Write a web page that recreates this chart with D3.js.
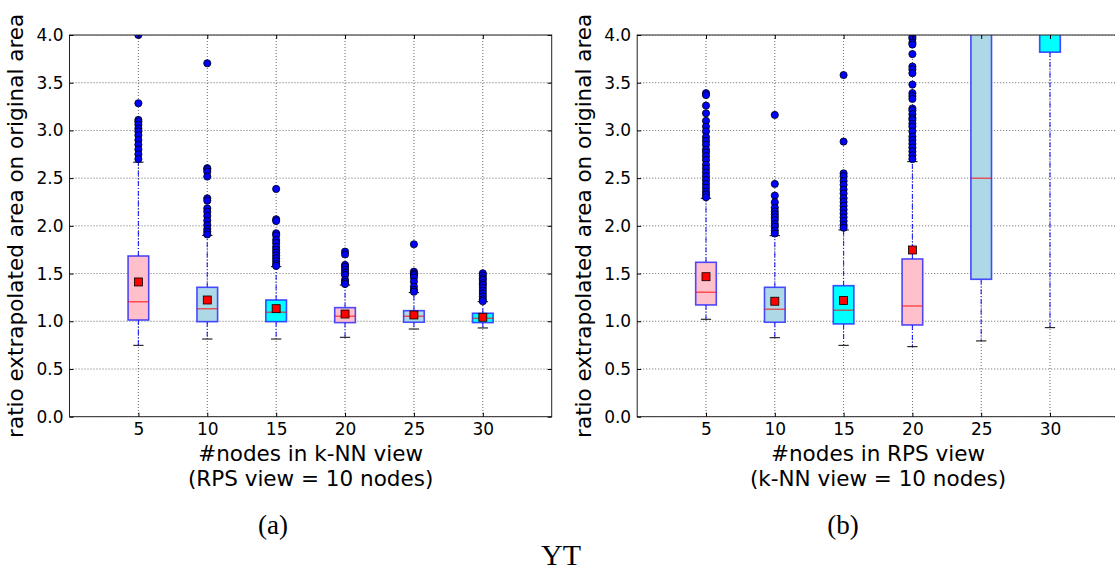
<!DOCTYPE html>
<html>
<head>
<meta charset="utf-8">
<script src="https://cdn.jsdelivr.net/npm/d3@7"></script>
<style>
  html, body { margin: 0; padding: 0; background: #fff; }
  svg { display: block; }
</style>
</head>
<body>
<svg id="chart" width="1115" height="570"></svg>
<script>
// ---------------- DATA ----------------
const categories = [5, 10, 15, 20, 25, 30];
const yTicks = [0.0, 0.5, 1.0, 1.5, 2.0, 2.5, 3.0, 3.5, 4.0];
const boxFills = ["pink", "lightblue", "cyan", "pink", "lightblue", "cyan"];

// (a) #nodes in k-NN view (RPS view = 10 nodes)
const leftQ1 = [1.013, 0.996, 0.996, 0.986, 0.990, 0.986];
const leftMedian = [1.205, 1.132, 1.094, 1.052, 1.052, 1.031];
const leftQ3 = [1.684, 1.356, 1.223, 1.143, 1.111, 1.084];
const leftMean = [1.412, 1.223, 1.132, 1.076, 1.066, 1.042];
const leftWhiskerLo = [0.748, 0.814, 0.814, 0.832, 0.919, 0.930];
const leftWhiskerHi = [2.667, 1.900, 1.572, 1.380, 1.300, 1.205];
const leftOutliers = [
  [4.0, 3.285, 3.11, 3.09, 3.06, 3.02, 2.99, 2.95, 2.90, 2.85, 2.80, 2.75, 2.70],
  [3.704, 2.604, 2.593, 2.568, 2.516, 2.289, 2.264, 2.184, 2.149, 2.104, 2.055, 2.009, 1.967, 1.939, 1.91],
  [2.387, 2.069, 2.05, 1.922, 1.90, 1.852, 1.82, 1.78, 1.75, 1.72, 1.69, 1.66, 1.63, 1.60, 1.58],
  [1.73, 1.70, 1.59, 1.57, 1.54, 1.51, 1.485, 1.433, 1.41, 1.39],
  [1.807, 1.52, 1.50, 1.485, 1.46, 1.415, 1.363, 1.328, 1.31],
  [1.503, 1.48, 1.45, 1.433, 1.40, 1.38, 1.35, 1.32, 1.29, 1.26, 1.23, 1.21]
];

// (b) #nodes in RPS view (k-NN view = 10 nodes)
const rightQ1 = [1.171, 0.990, 0.972, 0.961, 1.440, 3.820];
const rightMedian = [1.304, 1.126, 1.115, 1.160, 2.499, 5.200];
const rightQ3 = [1.618, 1.356, 1.373, 1.653, 4.800, 6.500];
const rightMean = [1.467, 1.210, 1.217, 1.747, 4.400, 5.500];
const rightWhiskerLo = [1.021, 0.828, 0.748, 0.734, 0.794, 0.933];
const rightWhiskerHi = [2.289, 1.897, 1.957, 2.673, 8.000, 9.000];
const rightOutliers = [
  [3.39, 3.37, 3.26, 3.18, 3.10, 3.04, 2.99, 2.93, 2.89, 2.85, 2.80, 2.77, 2.73, 2.69, 2.64, 2.60, 2.56, 2.52, 2.48, 2.44, 2.40, 2.36, 2.33, 2.30],
  [3.162, 2.439, 2.317, 2.247, 2.19, 2.15, 2.12, 2.09, 2.06, 2.02, 1.99, 1.95, 1.92],
  [3.58, 2.883, 2.55, 2.52, 2.47, 2.43, 2.38, 2.34, 2.29, 2.25, 2.21, 2.17, 2.13, 2.09, 2.05, 2.01, 1.98],
  [3.98, 3.96, 3.92, 3.90, 3.80, 3.67, 3.64, 3.60, 3.48, 3.39, 3.36, 3.33, 3.23, 3.21, 3.17, 3.13, 3.11, 3.07, 3.04, 2.99, 2.935, 2.90, 2.86, 2.82, 2.78, 2.74, 2.70],
  [],
  []
];

const panels = [
  { id: "a", x0: 69.5, x1: 551.7, q1: leftQ1, med: leftMedian, q3: leftQ3, mean: leftMean,
    wlo: leftWhiskerLo, whi: leftWhiskerHi, out: leftOutliers,
    xlabel1: "#nodes in k-NN view", xlabel2: "(RPS view = 10 nodes)", caption: "(a)", captionX: 273 },
  { id: "b", x0: 637.2, x1: 1118.8, q1: rightQ1, med: rightMedian, q3: rightQ3, mean: rightMean,
    wlo: rightWhiskerLo, whi: rightWhiskerHi, out: rightOutliers,
    xlabel1: "#nodes in RPS view", xlabel2: "(k-NN view = 10 nodes)", caption: "(b)", captionX: 843 }
];

// ---------------- DRAW ----------------
const svg = d3.select("#chart");
const yTop = 35, yBot = 416.7;
const y = d3.scaleLinear().domain([0, 4]).range([yBot, yTop]);
const font = "'DejaVu Sans', sans-serif";

panels.forEach((p, pi) => {
  const x = d3.scaleLinear().domain([0, 35]).range([p.x0, p.x1]);
  const g = svg.append("g");
  const clipId = "clip" + p.id;
  svg.append("defs").append("clipPath").attr("id", clipId)
    .append("rect").attr("x", p.x0).attr("y", yTop).attr("width", p.x1 - p.x0).attr("height", yBot - yTop);

  // grid
  const grid = g.append("g").attr("clip-path", `url(#${clipId})`);
  grid.selectAll(".gy").data(yTicks).join("line")
    .attr("x1", p.x0).attr("x2", p.x1).attr("y1", d => y(d)).attr("y2", d => y(d))
    .attr("stroke", "#000").attr("stroke-width", 0.8).attr("stroke-dasharray", "1,2").attr("opacity", 0.75);
  grid.selectAll(".gx").data(categories).join("line")
    .attr("x1", d => x(d)).attr("x2", d => x(d)).attr("y1", yTop).attr("y2", yBot)
    .attr("stroke", "#000").attr("stroke-width", 0.8).attr("stroke-dasharray", "1,2").attr("opacity", 0.75);

  // boxes
  const plot = g.append("g").attr("clip-path", `url(#${clipId})`);
  const bw = 1.5; // box width in data units
  const data = categories.map((c, i) => ({
    c, i, q1: p.q1[i], med: p.med[i], q3: p.q3[i], mean: p.mean[i],
    wlo: p.wlo[i], whi: p.whi[i], out: p.out[i], fill: boxFills[i]
  }));

  const items = plot.selectAll(".item").data(data).join("g");
  // whiskers
  items.append("line")
    .attr("x1", d => x(d.c)).attr("x2", d => x(d.c))
    .attr("y1", d => y(d.q3)).attr("y2", d => y(d.whi))
    .attr("stroke", "#0000ff").attr("stroke-width", 1.2).attr("stroke-dasharray", "5,2,1,2").attr("opacity", 0.8);
  items.append("line")
    .attr("x1", d => x(d.c)).attr("x2", d => x(d.c))
    .attr("y1", d => y(d.q1)).attr("y2", d => y(d.wlo))
    .attr("stroke", "#0000ff").attr("stroke-width", 1.2).attr("stroke-dasharray", "5,2,1,2").attr("opacity", 0.8);
  // caps
  items.append("line")
    .attr("x1", d => x(d.c - bw / 4)).attr("x2", d => x(d.c + bw / 4))
    .attr("y1", d => y(d.whi)).attr("y2", d => y(d.whi))
    .attr("stroke", "#000").attr("stroke-width", 1);
  items.append("line")
    .attr("x1", d => x(d.c - bw / 4)).attr("x2", d => x(d.c + bw / 4))
    .attr("y1", d => y(d.wlo)).attr("y2", d => y(d.wlo))
    .attr("stroke", "#000").attr("stroke-width", 1);
  // box
  items.append("rect")
    .attr("x", d => x(d.c - bw / 2)).attr("width", d => x(d.c + bw / 2) - x(d.c - bw / 2))
    .attr("y", d => y(d.q3)).attr("height", d => y(d.q1) - y(d.q3))
    .attr("fill", d => d.fill)
    .attr("stroke", "#2222ff").attr("stroke-width", 1.6).attr("stroke-opacity", 0.8);
  // median
  items.append("line")
    .attr("x1", d => x(d.c - bw / 2)).attr("x2", d => x(d.c + bw / 2))
    .attr("y1", d => y(d.med)).attr("y2", d => y(d.med))
    .attr("stroke", "#ff0000").attr("stroke-width", 1.4).attr("stroke-opacity", 0.6);
  // outliers
  items.each(function (d) {
    d3.select(this).selectAll("circle").data(d.out).join("circle")
      .attr("cx", x(d.c)).attr("cy", v => y(v)).attr("r", 3.6)
      .attr("fill", "#0000ff").attr("stroke", "#000").attr("stroke-width", 0.8);
  });
  // mean
  const ms = 8;
  items.append("rect")
    .attr("x", d => x(d.c) - ms / 2).attr("y", d => y(d.mean) - ms / 2)
    .attr("width", ms).attr("height", ms)
    .attr("fill", "#ff0000").attr("stroke", "#000").attr("stroke-width", 0.8);

  // frame
  g.append("rect").attr("x", p.x0).attr("y", yTop).attr("width", p.x1 - p.x0).attr("height", yBot - yTop)
    .attr("fill", "none").attr("stroke", "#222").attr("stroke-width", 1);

  // axes (ticks inward)
  const axL = d3.axisLeft(y).tickValues(yTicks).tickFormat(d3.format(".1f")).tickSizeInner(-4).tickSizeOuter(0).tickPadding(6);
  g.append("g").attr("transform", `translate(${p.x0},0)`).call(axL);
  const axR = d3.axisRight(y).tickValues(yTicks).tickFormat("").tickSizeInner(-4).tickSizeOuter(0);
  g.append("g").attr("transform", `translate(${p.x1},0)`).call(axR);
  const axB = d3.axisBottom(x).tickValues(categories).tickFormat(d3.format("d")).tickSizeInner(-4).tickSizeOuter(0).tickPadding(6);
  g.append("g").attr("transform", `translate(0,${yBot})`).call(axB);
  const axT = d3.axisTop(x).tickValues(categories).tickFormat("").tickSizeInner(-4).tickSizeOuter(0);
  g.append("g").attr("transform", `translate(0,${yTop})`).call(axT);
  g.selectAll(".domain").remove();
  g.selectAll(".tick line").attr("stroke", "#000");
  g.selectAll(".tick text").attr("font-family", font).attr("font-size", 17).attr("fill", "#000");

  // labels
  const cx = (p.x0 + p.x1) / 2;
  g.append("text").attr("x", cx).attr("y", 461).attr("text-anchor", "middle")
    .attr("font-family", font).attr("font-size", 21.5).text(p.xlabel1);
  g.append("text").attr("x", cx).attr("y", 486).attr("text-anchor", "middle")
    .attr("font-family", font).attr("font-size", 21.5).text(p.xlabel2);
  g.append("text").attr("transform", `translate(${p.x0 - 46.5},${(yTop + yBot) / 2}) rotate(-90)`)
    .attr("text-anchor", "middle")
    .attr("font-family", font).attr("font-size", 21.5).text("ratio extrapolated area on original area");
  g.append("text").attr("x", p.captionX).attr("y", 534).attr("text-anchor", "middle")
    .attr("font-family", "'Liberation Serif', serif").attr("font-size", 27).text(p.caption);
});

svg.append("text").attr("x", 561).attr("y", 565).attr("text-anchor", "middle")
  .attr("font-family", "'Liberation Serif', serif").attr("font-size", 30).text("YT");
</script>
</body>
</html>
